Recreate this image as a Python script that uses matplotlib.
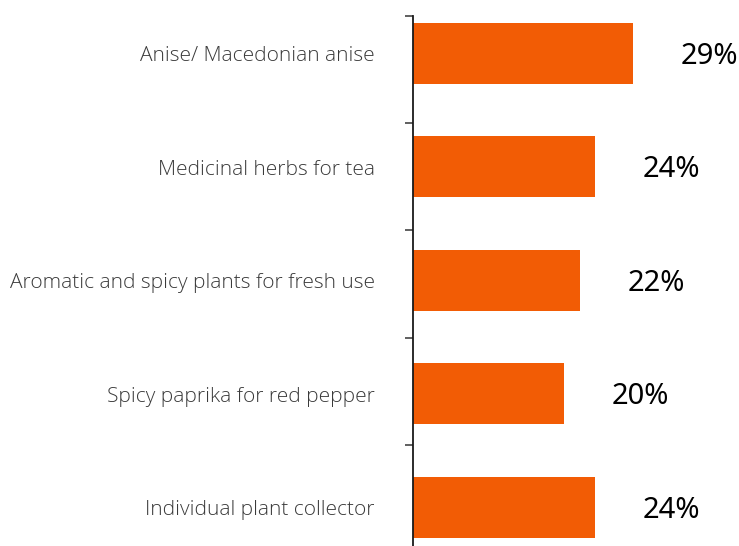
import matplotlib
matplotlib.use("Agg")
import matplotlib.pyplot as plt
import numpy as np

# categories top to bottom and their shares in percent
categories = [
    "Anise/ Macedonian anise",
    "Medicinal herbs for tea",
    "Aromatic and spicy plants for fresh use",
    "Spicy paprika for red pepper",
    "Individual plant collector",
]
shares = [29, 24, 22, 20, 24]

W, H = 739, 546
fig = plt.figure(figsize=(W / 100, H / 100), dpi=100)

# axes box in pixels: spine at x=413, runs from y=15.5 down past the bottom edge
left, top = 413, 15.5
ax = fig.add_axes([left / W, 0, (W - left) / W, (H - top) / H])

ypos = np.arange(len(categories))
ax.barh(ypos, shares, height=0.535, color="#F25C05")

ax.set_xlim(0, (W - left) / 7.57)
ax.set_ylim(4.341, -0.333)

for s in ["top", "right", "bottom"]:
    ax.spines[s].set_visible(False)
ax.spines["left"].set_color("#1a1a1a")
ax.spines["left"].set_linewidth(1.3)
ax.set_xticks([])

# tick marks between categories
ax.set_yticks([-0.333 + k * 0.9465 for k in range(5)])
ax.set_yticklabels([])
ax.tick_params(axis="y", length=6, width=1.2, color="#444444")

# small downward nudge so text sits level with the bar centres
dy = 0.027

label_font = dict(family="Open Sans", fontweight="light", fontsize=15, color="#3a3a3a")
for y, name in zip(ypos, categories):
    ax.text(-38 / 7.57, y + dy, name, ha="right", va="center", clip_on=False, **label_font)

for y, v in zip(ypos, shares):
    ax.text(v + 6.3, y + dy, f"{v}%", ha="left", va="center", family="Noto Sans",
            fontweight="medium", fontsize=21, color="black")

fig.savefig("out.png", dpi=100)
